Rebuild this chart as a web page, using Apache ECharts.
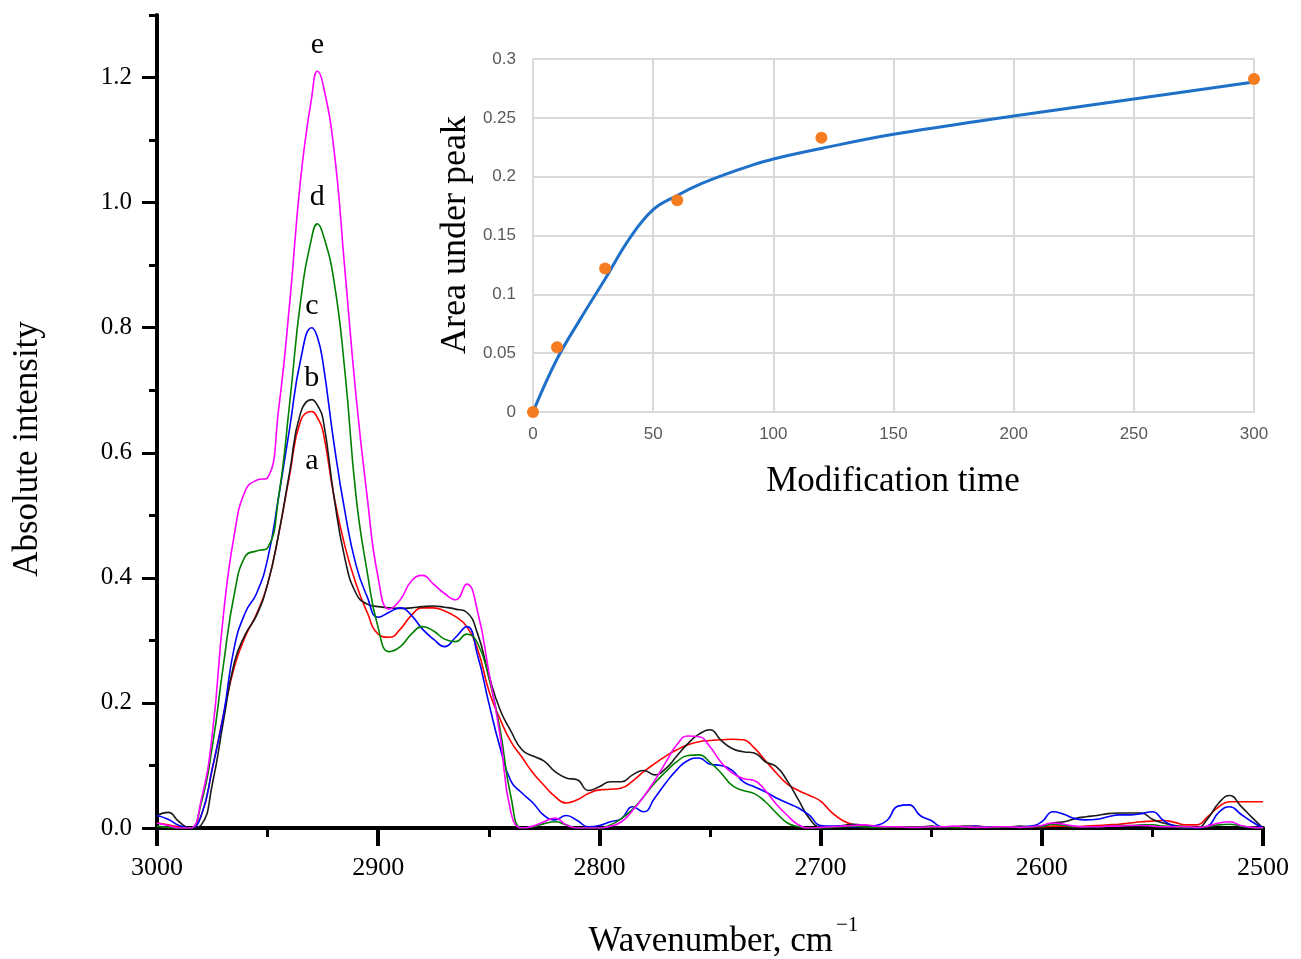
<!DOCTYPE html>
<html>
<head>
<meta charset="utf-8">
<script src="https://cdn.jsdelivr.net/npm/echarts@6/dist/echarts.min.js"></script>
<style>
  html, body { margin: 0; padding: 0; background: #fff; }
  #chart { width: 1301px; height: 959px; }
</style>
</head>
<body>
<div id="chart"></div>
<script>
// Wavenumber sampling grid, cm^-1 (3000 -> 2500, step 5, plus the band maximum at 2927.5)
const wavenumbers = [
  3000, 2995, 2990, 2985, 2980, 2975, 2970, 2965, 2960, 2955,
  2950, 2945, 2940, 2935, 2930, 2927.5, 2925, 2920, 2915, 2910, 2905,
  2900, 2895, 2890, 2885, 2880, 2875, 2870, 2865, 2860, 2855,
  2850, 2845, 2840, 2835, 2830, 2825, 2820, 2815, 2810, 2805,
  2800, 2795, 2790, 2785, 2780, 2775, 2770, 2765, 2760, 2755,
  2750, 2745, 2740, 2735, 2730, 2725, 2720, 2715, 2710, 2705,
  2700, 2695, 2690, 2685, 2680, 2675, 2670, 2665, 2660, 2655,
  2650, 2645, 2640, 2635, 2630, 2625, 2620, 2615, 2610, 2605,
  2600, 2595, 2590, 2585, 2580, 2575, 2570, 2565, 2560, 2555,
  2550, 2545, 2540, 2535, 2530, 2525, 2520, 2515, 2510, 2505,
  2500
];

// Absolute intensity of the five spectra (a-e)
const spectrumA = [
  0.008, 0.005, 0.002, 0.0, 0.02, 0.095, 0.18, 0.258, 0.307, 0.342,
  0.39, 0.47, 0.565, 0.652, 0.666, 0.656, 0.635, 0.53, 0.45, 0.39, 0.345,
  0.31, 0.305, 0.318, 0.34, 0.352, 0.352, 0.347, 0.338, 0.322, 0.285,
  0.22, 0.175, 0.138, 0.113, 0.088, 0.068, 0.05, 0.04, 0.045, 0.055,
  0.061, 0.062, 0.064, 0.075, 0.09, 0.103, 0.115, 0.125, 0.133, 0.138,
  0.14, 0.141, 0.142, 0.141, 0.128, 0.108, 0.088, 0.07, 0.06, 0.052,
  0.043, 0.025, 0.012, 0.005, 0.002, 0.002, 0.002, 0.001, 0.002, 0.002,
  0.002, 0.002, 0.001, 0.002, 0.003, 0.002, 0.002, 0.002, 0.001, 0.002,
  0.002, 0.003, 0.003, 0.002, 0.003, 0.004, 0.005, 0.006, 0.008, 0.01,
  0.011, 0.012, 0.009, 0.005, 0.005, 0.018, 0.034, 0.042, 0.042, 0.042,
  0.042
];
const spectrumB = [
  0.02, 0.025, 0.01, 0.0, 0.005, 0.07, 0.17, 0.265, 0.31, 0.34,
  0.39, 0.47, 0.57, 0.665, 0.685, 0.676, 0.655, 0.53, 0.43, 0.375, 0.358,
  0.354, 0.352, 0.351, 0.352, 0.354, 0.355, 0.353, 0.35, 0.345, 0.31,
  0.245, 0.19, 0.155, 0.125, 0.115, 0.107, 0.09, 0.08, 0.077, 0.06,
  0.066, 0.074, 0.074, 0.085, 0.092, 0.085, 0.095, 0.115, 0.135, 0.15,
  0.157, 0.14, 0.127, 0.122, 0.12, 0.106, 0.098, 0.075, 0.045, 0.015,
  0.002, 0.002, 0.004, 0.006, 0.004, 0.002, 0.002, 0.002, 0.002, 0.002,
  0.003, 0.002, 0.002, 0.003, 0.002, 0.002, 0.002, 0.002, 0.003, 0.002,
  0.002, 0.008, 0.01, 0.015, 0.018, 0.02, 0.023, 0.024, 0.024, 0.024,
  0.014, 0.008, 0.004, 0.002, 0.0, 0.015, 0.04, 0.052, 0.035, 0.017,
  0.0
];
const spectrumC = [
  0.02, 0.014, 0.004, 0.0, 0.02, 0.095, 0.18, 0.29, 0.345, 0.375,
  0.43, 0.53, 0.64, 0.75, 0.80, 0.785, 0.745, 0.615, 0.505, 0.42, 0.37,
  0.337, 0.345, 0.352, 0.34, 0.318, 0.302, 0.29, 0.305, 0.322, 0.275,
  0.2, 0.13, 0.075, 0.056, 0.04, 0.02, 0.013, 0.02, 0.012, 0.002,
  0.004, 0.01, 0.015, 0.034, 0.026, 0.048, 0.072, 0.093, 0.108, 0.112,
  0.102, 0.1, 0.092, 0.074, 0.066, 0.058, 0.048, 0.04, 0.032, 0.02,
  0.004, 0.003, 0.003, 0.002, 0.002, 0.004, 0.012, 0.035, 0.037, 0.02,
  0.012, 0.002, 0.002, 0.002, 0.003, 0.002, 0.002, 0.002, 0.002, 0.003,
  0.01, 0.026, 0.022, 0.015, 0.013, 0.014, 0.018, 0.021, 0.021, 0.023,
  0.026, 0.012, 0.003, 0.0, 0.0, 0.003, 0.025, 0.034, 0.022, 0.01,
  0.0
];
const spectrumD = [
  0.003, 0.001, 0.0, 0.0, 0.04, 0.13, 0.26, 0.375, 0.435, 0.443,
  0.448, 0.53, 0.68, 0.845, 0.945, 0.966, 0.95, 0.875, 0.728, 0.53, 0.41,
  0.32, 0.282, 0.29, 0.31, 0.322, 0.315, 0.302, 0.298, 0.31, 0.295,
  0.24, 0.16, 0.05, 0.0, 0.002, 0.007, 0.01, 0.005, 0.0, 0.0,
  0.0, 0.005, 0.015, 0.03, 0.05, 0.072, 0.09, 0.106, 0.116, 0.117,
  0.105, 0.088, 0.068, 0.06, 0.055, 0.042, 0.024, 0.008, 0.002, 0.0,
  0.0, 0.001, 0.002, 0.003, 0.002, 0.001, 0.001, 0.002, 0.001, 0.001,
  0.001, 0.002, 0.001, 0.001, 0.002, 0.001, 0.001, 0.002, 0.001, 0.002,
  0.003, 0.006, 0.004, 0.002, 0.002, 0.002, 0.003, 0.004, 0.004, 0.005,
  0.005, 0.003, 0.002, 0.001, 0.001, 0.002, 0.005, 0.006, 0.003, 0.001,
  0.0
];
const spectrumE = [
  0.008, 0.004, 0.0, 0.0, 0.045, 0.15, 0.34, 0.47, 0.54, 0.556,
  0.56, 0.67, 0.84, 1.04, 1.17, 1.21, 1.19, 1.085, 0.89, 0.69, 0.53,
  0.40, 0.35, 0.365, 0.395, 0.404, 0.39, 0.375, 0.365, 0.39, 0.345,
  0.25, 0.15, 0.025, 0.0, 0.003, 0.01, 0.016, 0.005, 0.0, 0.0,
  0.0, 0.003, 0.01, 0.028, 0.05, 0.076, 0.105, 0.133, 0.147, 0.146,
  0.13, 0.105, 0.088, 0.079, 0.076, 0.06, 0.038, 0.02, 0.005, 0.0,
  0.001, 0.002, 0.003, 0.004, 0.005, 0.003, 0.002, 0.002, 0.001, 0.001,
  0.002, 0.002, 0.003, 0.002, 0.001, 0.001, 0.002, 0.002, 0.001, 0.002,
  0.004, 0.008, 0.006, 0.003, 0.002, 0.002, 0.003, 0.003, 0.004, 0.004,
  0.003, 0.002, 0.002, 0.002, 0.001, 0.003, 0.008, 0.01, 0.004, 0.001,
  0.0
];

const curveNames = ['a', 'b', 'c', 'd', 'e'];
const yMajorTicks = [0, 0.2, 0.4, 0.6, 0.8, 1.0, 1.2];
const yMinorTicks = [0.1, 0.3, 0.5, 0.7, 0.9, 1.1, 1.3];

// Inset: area under the peak vs. modification time
const timePoints = [0, 10, 30, 60, 120, 300];
const areaPoints = [0, 0.055, 0.122, 0.18, 0.233, 0.283];
const fitTime = [0, 10, 20, 30, 40, 50, 60, 70, 80, 90, 100, 120, 150, 200, 250, 300];
const fitArea = [0, 0.045, 0.08, 0.113, 0.147, 0.172, 0.184, 0.194, 0.202, 0.209, 0.215, 0.224, 0.236, 0.2515, 0.266, 0.2805];

const SERIF = '"Liberation Serif", "Times New Roman", serif';
const SANS = '"Liberation Sans", Arial, sans-serif';

const spectra = [spectrumA, spectrumB, spectrumC, spectrumD, spectrumE];
const colors = ['#ff0000', '#1a1a1a', '#0000ff', '#008000', '#ff00ff'];
// vertical offset (px) of each curve's letter from its maximum
const letterOffsets = [50, -21, -22, -27, -26];

const spectrumSeries = spectra.map((vals, k) => {
  let iMax = 0;
  vals.forEach((v, i) => { if (v > vals[iMax]) iMax = i; });
  return {
    name: curveNames[k],
    type: 'line',
    xAxisIndex: 0,
    yAxisIndex: 0,
    data: wavenumbers.map((w, i) => [w, vals[i]]),
    smooth: 0.5,
    showSymbol: false,
    lineStyle: { color: colors[k], width: 1.6 },
    itemStyle: { color: colors[k] },
    z: 3,
    markPoint: {
      symbol: 'circle',
      symbolSize: 0,
      silent: true,
      data: [{ coord: [wavenumbers[iMax], vals[iMax]], name: curveNames[k] }],
      label: {
        show: true,
        position: 'inside',
        formatter: curveNames[k],
        offset: [0, letterOffsets[k]],
        color: '#000',
        fontFamily: SERIF,
        fontSize: 30
      }
    }
  };
});

const chart = echarts.init(document.getElementById('chart'), null, { renderer: 'canvas' });

chart.setOption({
  backgroundColor: '#ffffff',
  animation: false,
  grid: [
    { left: 157, top: 15, width: 1106, height: 813 },
    { left: 533, top: 59, width: 721, height: 353 }
  ],
  xAxis: [
    {
      type: 'value', gridIndex: 0, inverse: true,
      min: 2500, max: 3000, interval: 100,
      axisLine: { show: true, onZero: false, lineStyle: { color: '#000', width: 4 } },
      axisTick: { show: true, length: 18, lineStyle: { color: '#000', width: 4 } },
      minorTick: { show: true, splitNumber: 2, length: 9, lineStyle: { color: '#000', width: 3 } },
      axisLabel: { margin: 27, fontSize: 26, color: '#000', fontFamily: SERIF, formatter: v => String(v) },
      splitLine: { show: false }
    },
    {
      type: 'value', gridIndex: 1,
      min: 0, max: 300, interval: 50,
      axisLine: { show: true, lineStyle: { color: '#d9d9d9', width: 2 } },
      axisTick: { show: false },
      axisLabel: { margin: 14, fontSize: 17, color: '#595959', fontFamily: SANS },
      splitLine: { show: true, lineStyle: { color: '#d9d9d9', width: 2 } }
    }
  ],
  yAxis: [
    {
      type: 'value', gridIndex: 0, min: 0, max: 1.3,
      axisLine: { show: true, onZero: false, lineStyle: { color: '#000', width: 4 } },
      axisTick: { show: true, customValues: yMajorTicks, length: 15, lineStyle: { color: '#000', width: 3 } },
      axisLabel: {
        customValues: yMajorTicks,
        formatter: v => v.toFixed(1),
        margin: 25, fontSize: 25, color: '#000', fontFamily: SERIF
      },
      splitLine: { show: false }
    },
    {
      type: 'value', gridIndex: 0, min: 0, max: 1.3, position: 'left',
      axisLine: { show: false },
      axisTick: { show: true, customValues: yMinorTicks, length: 8, lineStyle: { color: '#000', width: 3 } },
      axisLabel: { show: false },
      splitLine: { show: false }
    },
    {
      type: 'value', gridIndex: 1, min: 0, max: 0.3, interval: 0.05,
      axisLine: { show: true, lineStyle: { color: '#d9d9d9', width: 2 } },
      axisTick: { show: false },
      axisLabel: { margin: 17, fontSize: 17, color: '#595959', fontFamily: SANS },
      splitLine: { show: true, lineStyle: { color: '#d9d9d9', width: 2 } }
    }
  ],
  series: [
    ...spectrumSeries,
    {
      name: 'fit',
      type: 'line',
      xAxisIndex: 1, yAxisIndex: 2,
      data: fitTime.map((t, i) => [t, fitArea[i]]),
      smooth: 0.4,
      showSymbol: false,
      lineStyle: { color: '#1f70c8', width: 3 },
      z: 4
    },
    {
      name: 'measured',
      type: 'scatter',
      xAxisIndex: 1, yAxisIndex: 2,
      data: timePoints.map((t, i) => [t, areaPoints[i]]),
      symbolSize: 12,
      itemStyle: { color: '#f57c1f', opacity: 1 },
      z: 5
    }
  ],
  graphic: [
    {
      type: 'text', x: 28, y: 449, rotation: Math.PI / 2,
      style: { text: 'Absolute intensity', font: '35px ' + SERIF, fill: '#000', textAlign: 'center', textVerticalAlign: 'middle' }
    },
    {
      type: 'text', x: 833, y: 942,
      style: { text: 'Wavenumber, cm', font: '35px ' + SERIF, fill: '#000', textAlign: 'right', textVerticalAlign: 'middle' }
    },
    {
      type: 'text', x: 836, y: 925,
      style: { text: '\u22121', font: '21px ' + SERIF, fill: '#000', textAlign: 'left', textVerticalAlign: 'middle' }
    },
    {
      type: 'text', x: 456, y: 235, rotation: Math.PI / 2,
      style: { text: 'Area under peak', font: '36px ' + SERIF, fill: '#000', textAlign: 'center', textVerticalAlign: 'middle' }
    },
    {
      type: 'text', x: 893, y: 482,
      style: { text: 'Modification time', font: '35px ' + SERIF, fill: '#000', textAlign: 'center', textVerticalAlign: 'middle' }
    }
  ]
});
</script>
</body>
</html>
